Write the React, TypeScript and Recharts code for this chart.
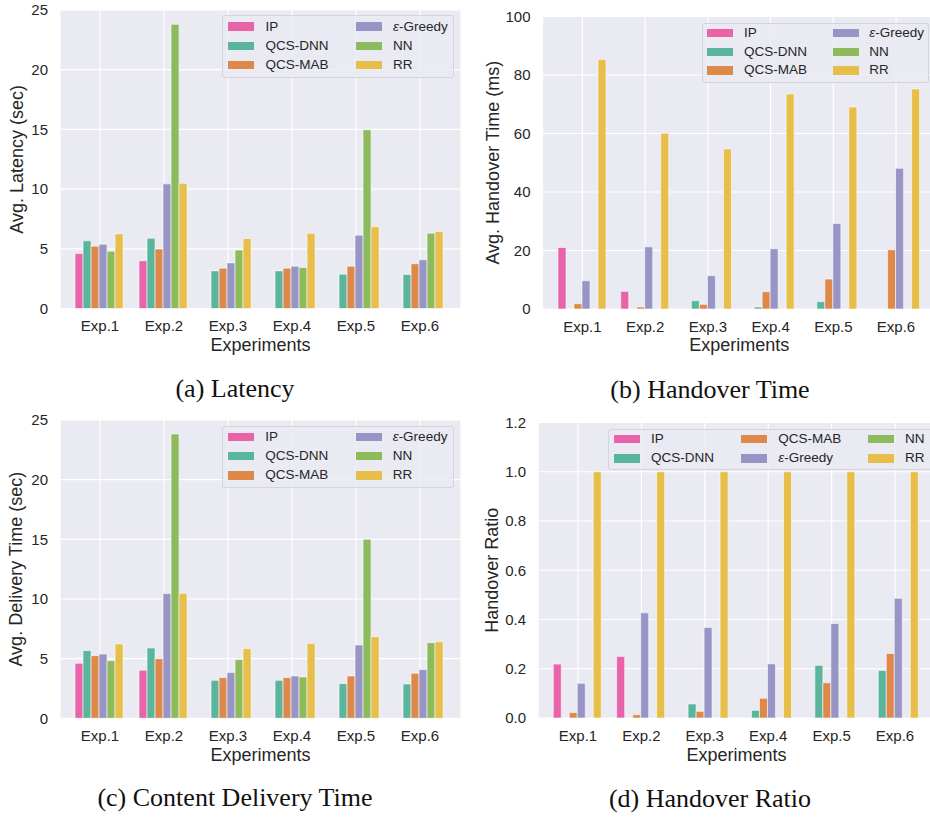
import React from 'react';
import { BarChart, Bar, XAxis, YAxis, CartesianGrid, Legend } from 'recharts';

const categories = ['Exp.1', 'Exp.2', 'Exp.3', 'Exp.4', 'Exp.5', 'Exp.6'];
const seriesNames = ['IP', 'QCS-DNN', 'QCS-MAB', 'ε-Greedy', 'NN', 'RR'];
const seriesKeys = ['ip', 'dnn', 'mab', 'greedy', 'nn', 'rr'];
const seriesColors = ['#e863a9', '#59b59c', '#de894a', '#9895c6', '#8eba5e', '#e7be4a'];

// (a) Latency (sec)
const latencyIP = [4.6, 4.0, 0, 0, 0, 0];
const latencyDNN = [5.67, 5.88, 3.15, 3.15, 2.87, 2.85];
const latencyMAB = [5.22, 4.98, 3.38, 3.38, 3.54, 3.75];
const latencyGreedy = [5.38, 10.44, 3.82, 3.54, 6.14, 4.08];
const latencyNN = [4.8, 23.8, 4.89, 3.44, 14.97, 6.31];
const latencyRR = [6.25, 10.49, 5.86, 6.3, 6.84, 6.44];

// (b) Handover time (ms)
const handoverIP = [21.05, 6.03, 0, 0, 0, 0];
const handoverDNN = [0, 0, 2.84, 0.68, 2.5, 0];
const handoverMAB = [1.82, 0.68, 1.59, 5.9, 10.24, 20.25];
const handoverGreedy = [9.67, 21.27, 11.38, 20.6, 29.2, 48.1];
const handoverNN = [0, 0, 0, 0, 0, 0];
const handoverRR = [85.3, 60.07, 54.7, 73.5, 69.05, 75.2];

// (c) Content delivery time (sec)
const deliveryIP = [4.61, 4.02, 0, 0, 0, 0];
const deliveryDNN = [5.67, 5.89, 3.18, 3.18, 2.9, 2.88];
const deliveryMAB = [5.25, 5.0, 3.41, 3.41, 3.55, 3.77];
const deliveryGreedy = [5.39, 10.45, 3.83, 3.55, 6.15, 4.08];
const deliveryNN = [4.83, 23.83, 4.92, 3.46, 15.0, 6.34];
const deliveryRR = [6.23, 10.47, 5.84, 6.28, 6.84, 6.42];

// (d) Handover ratio
const ratioIP = [0.219, 0.25, 0, 0, 0, 0];
const ratioDNN = [0, 0, 0.057, 0.031, 0.214, 0.193];
const ratioMAB = [0.022, 0.0135, 0.027, 0.08, 0.143, 0.262];
const ratioGreedy = [0.141, 0.427, 0.368, 0.22, 0.384, 0.486];
const ratioNN = [0, 0, 0, 0, 0, 0];
const ratioRR = [1, 1, 1, 1, 1, 1];

const secTicks = [0, 5, 10, 15, 20, 25];
const msTicks = [0, 20, 40, 60, 80, 100];
const ratioTicks = [0, 0.2, 0.4, 0.6, 0.8, 1.0, 1.2];

const FONT = '"Liberation Sans", Arial, Helvetica, sans-serif';
const SERIF = '"Liberation Serif", "Times New Roman", serif';
const TEXT = '#262626';

type LegendItem = { s: number; sx: number; tx: number; cy: number };

type PanelCfg = {
  left: number;
  top: number;
  width: number;
  height: number;
  margin: { top: number; right: number; bottom: number; left: number };
  pad: { left: number; right: number };
  values: number[][];
  ticks: number[];
  domain: [number, number];
  fmt?: (v: number) => string;
  yLabel: string;
  yLabelX: number;
  yLabelY: number;
  xLabelX: number;
  xLabelY: number;
  legend: { left: number; top: number; w: number; h: number; items: LegendItem[] };
};

const panels: PanelCfg[] = [
  {
    left: 0, top: 0, width: 465, height: 365,
    margin: { top: 10, right: 4, bottom: 11.5, left: 10 },
    pad: { left: 8, right: 9 },
    values: [latencyIP, latencyDNN, latencyMAB, latencyGreedy, latencyNN, latencyRR],
    ticks: secTicks, domain: [0, 25],
    yLabel: 'Avg. Latency (sec)', yLabelX: 22.5, yLabelY: 159.25,
    xLabelX: 260.5, xLabelY: 351,
    legend: {
      left: 222, top: 15, w: 232, h: 63,
      items: [
        { s: 0, sx: 6, tx: 43.5, cy: 11.7 },
        { s: 1, sx: 6, tx: 43.5, cy: 31 },
        { s: 2, sx: 6, tx: 43.5, cy: 50 },
        { s: 3, sx: 134, tx: 171, cy: 11.7 },
        { s: 4, sx: 134, tx: 171, cy: 31 },
        { s: 5, sx: 134, tx: 171, cy: 50 },
      ],
    },
  },
  {
    left: 465, top: 0, width: 472, height: 365,
    margin: { top: 16.5, right: 1, bottom: 11, left: 27.5 },
    pad: { left: 8.6, right: 8.6 },
    values: [handoverIP, handoverDNN, handoverMAB, handoverGreedy, handoverNN, handoverRR],
    ticks: msTicks, domain: [0, 100],
    yLabel: 'Avg. Handover Time (ms)', yLabelX: 34, yLabelY: 162.75,
    xLabelX: 274.25, xLabelY: 351,
    legend: {
      left: 237, top: 22.7, w: 227, h: 60,
      items: [
        { s: 0, sx: 5, tx: 42, cy: 10.3 },
        { s: 1, sx: 5, tx: 42, cy: 29.3 },
        { s: 2, sx: 5, tx: 42, cy: 47.8 },
        { s: 3, sx: 130.6, tx: 167.3, cy: 10.3 },
        { s: 4, sx: 130.6, tx: 167.3, cy: 29.3 },
        { s: 5, sx: 130.6, tx: 167.3, cy: 47.8 },
      ],
    },
  },
  {
    left: 0, top: 405, width: 465, height: 365,
    margin: { top: 15, right: 4, bottom: 6.7, left: 10 },
    pad: { left: 8, right: 9 },
    values: [deliveryIP, deliveryDNN, deliveryMAB, deliveryGreedy, deliveryNN, deliveryRR],
    ticks: secTicks, domain: [0, 25],
    yLabel: 'Avg. Delivery Time (sec)', yLabelX: 22.5, yLabelY: 164.2,
    xLabelX: 260.5, xLabelY: 356,
    legend: {
      left: 221.7, top: 20.7, w: 232.3, h: 62,
      items: [
        { s: 0, sx: 6, tx: 43.5, cy: 11.5 },
        { s: 1, sx: 6, tx: 43.5, cy: 30.3 },
        { s: 2, sx: 6, tx: 43.5, cy: 49.6 },
        { s: 3, sx: 134, tx: 171, cy: 11.5 },
        { s: 4, sx: 134, tx: 171, cy: 30.3 },
        { s: 5, sx: 134, tx: 171, cy: 49.6 },
      ],
    },
  },
  {
    left: 465, top: 405, width: 472, height: 365,
    margin: { top: 17.5, right: 2, bottom: 7, left: 23 },
    pad: { left: 8.3, right: 8.3 },
    values: [ratioIP, ratioDNN, ratioMAB, ratioGreedy, ratioNN, ratioRR],
    ticks: ratioTicks, domain: [0, 1.2], fmt: (v: number) => v.toFixed(1),
    yLabel: 'Handover Ratio', yLabelX: 33, yLabelY: 165.25,
    xLabelX: 271.5, xLabelY: 356,
    legend: {
      left: 143.3, top: 24, w: 326, h: 41,
      items: [
        { s: 0, sx: 6, tx: 42.7, cy: 10.2 },
        { s: 1, sx: 6, tx: 42.7, cy: 29.3 },
        { s: 2, sx: 132.7, tx: 170, cy: 10.2 },
        { s: 3, sx: 132.7, tx: 170, cy: 29.3 },
        { s: 4, sx: 259.4, tx: 296.7, cy: 10.2 },
        { s: 5, sx: 259.4, tx: 296.7, cy: 29.3 },
      ],
    },
  },
];

const captions = [
  { text: '(a) Latency', x: 235, y: 397 },
  { text: '(b) Handover Time', x: 710, y: 398 },
  { text: '(c) Content Delivery Time', x: 235, y: 806 },
  { text: '(d) Handover Ratio', x: 710, y: 807 },
];

function renderName(name: string) {
  if (name.startsWith('ε')) {
    return (
      <>
        <span style={{ fontStyle: 'italic' }}>ε</span>
        {name.slice(1)}
      </>
    );
  }
  return name;
}

function LegendBox({ cfg }: { cfg: PanelCfg['legend'] }) {
  return (
    <div
      style={{
        position: 'relative',
        width: cfg.w,
        height: cfg.h,
        boxSizing: 'border-box',
        background: 'rgba(234,234,242,0.8)',
        border: '1px solid rgba(210,210,218,0.9)',
        borderRadius: 3,
        fontFamily: FONT,
        fontSize: 13.5,
        color: TEXT,
      }}
    >
      {cfg.items.map((it) => (
        <React.Fragment key={it.s}>
          <div
            style={{
              position: 'absolute',
              left: it.sx - 1,
              top: it.cy - 1 - 4.25,
              width: 26,
              height: 8.5,
              background: seriesColors[it.s],
            }}
          />
          <div
            style={{
              position: 'absolute',
              left: it.tx - 1,
              top: it.cy - 1 - 8,
              height: 16,
              lineHeight: '16px',
              whiteSpace: 'nowrap',
            }}
          >
            {renderName(seriesNames[it.s])}
          </div>
        </React.Fragment>
      ))}
    </div>
  );
}

function Panel({ cfg }: { cfg: PanelCfg }) {
  const data = categories.map((c, i) => {
    const row: Record<string, string | number> = { name: c };
    seriesKeys.forEach((k, j) => {
      row[k] = cfg.values[j][i];
    });
    return row;
  });
  const yLabelContent = () => (
    <text
      x={cfg.yLabelX}
      y={cfg.yLabelY}
      transform={`rotate(-90, ${cfg.yLabelX}, ${cfg.yLabelY})`}
      textAnchor="middle"
      fontFamily={FONT}
      fontSize={18}
      fill={TEXT}
    >
      {cfg.yLabel}
    </text>
  );
  const xLabelContent = () => (
    <text x={cfg.xLabelX} y={cfg.xLabelY} textAnchor="middle" fontFamily={FONT} fontSize={18} fill={TEXT}>
      Experiments
    </text>
  );
  return (
    <div style={{ position: 'absolute', left: cfg.left, top: cfg.top }}>
      <BarChart
        width={cfg.width}
        height={cfg.height}
        data={data}
        margin={cfg.margin}
        barCategoryGap="11%"
        barGap={0}
      >
        <CartesianGrid stroke="#ffffff" strokeWidth={1.2} fill="#eaeaf2" fillOpacity={1} />
        <XAxis
          dataKey="name"
          axisLine={false}
          tickLine={false}
          tickSize={0}
          tickMargin={12}
          height={45}
          interval={0}
          padding={cfg.pad}
          tick={{ fontSize: 15, fill: TEXT, fontFamily: FONT }}
          label={{ content: xLabelContent }}
        />
        <YAxis
          width={50}
          domain={cfg.domain}
          ticks={cfg.ticks}
          allowDataOverflow
          axisLine={false}
          tickLine={false}
          tickSize={0}
          tickMargin={12}
          tickFormatter={cfg.fmt}
          tick={{ fontSize: 15, fill: TEXT, fontFamily: FONT }}
          label={{ content: yLabelContent }}
        />
        {seriesKeys.map((k, j) => (
          <Bar
            key={k}
            dataKey={k}
            name={seriesNames[j]}
            fill={seriesColors[j]}
            stroke="#ffffff"
            strokeWidth={0.8}
            strokeOpacity={0.7}
            isAnimationActive={false}
          />
        ))}
        <Legend
          layout="horizontal"
          verticalAlign="middle"
          align="center"
          content={() => <LegendBox cfg={cfg.legend} />}
          wrapperStyle={{
            position: 'absolute',
            left: cfg.legend.left,
            top: cfg.legend.top,
            width: cfg.legend.w,
            height: cfg.legend.h,
            margin: 0,
          }}
        />
      </BarChart>
    </div>
  );
}

export default function App() {
  return (
    <div
      style={{
        position: 'absolute',
        left: 0,
        top: 0,
        width: 930,
        height: 819,
        overflow: 'hidden',
        background: '#ffffff',
      }}
    >
      {panels.map((p, i) => (
        <Panel key={i} cfg={p} />
      ))}
      <svg
        width={930}
        height={819}
        style={{ position: 'absolute', left: 0, top: 0, pointerEvents: 'none' }}
      >
        {captions.map((c) => (
          <text key={c.text} x={c.x} y={c.y} textAnchor="middle" fontFamily={SERIF} fontSize={26} fill="#111111">
            {c.text}
          </text>
        ))}
      </svg>
    </div>
  );
}
